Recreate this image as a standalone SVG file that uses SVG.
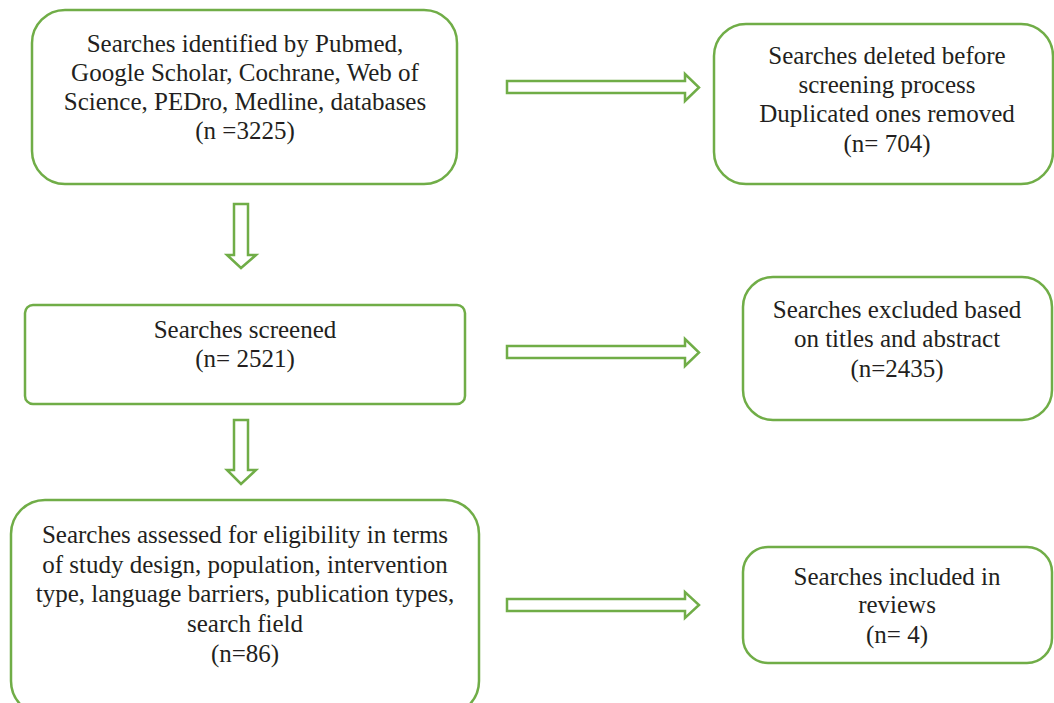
<svg xmlns="http://www.w3.org/2000/svg" width="1054" height="703" viewBox="0 0 1054 703">
<style>
.box{fill:#ffffff;stroke:#70AD47;stroke-width:2.5}
.arr{fill:#ffffff;stroke:#70AD47;stroke-width:2.5;stroke-linejoin:miter}
.lbl{font-family:"Liberation Serif","Times New Roman",serif;font-size:25px;fill:#231f20;text-anchor:middle}
</style>
<rect width="1054" height="703" fill="#ffffff"/>
<g id="connectors">
<polygon class="arr" points="507,81 685,81 685,74 699,87.5 685,101 685,93 507,93"/>
<polygon class="arr" points="507,346 685,346 685,339 699,352.5 685,366 685,358 507,358"/>
<polygon class="arr" points="507,599 685,599 685,592 699,605 685,618 685,611 507,611"/>
<polygon class="arr" points="234,204 248,204 248,255 256,255 241,268 227,255 234,255"/>
<polygon class="arr" points="234,420 248,420 248,470 256,470 241,484 227,470 234,470"/>
</g>
<g id="node-identified">
<rect class="box" x="32" y="10" width="425" height="174" rx="33" ry="33"/>
<text class="lbl" x="245" y="52">Searches identified by Pubmed,</text>
<text class="lbl" x="245" y="81">Google Scholar, Cochrane, Web of</text>
<text class="lbl" x="245" y="110">Science, PEDro, Medline, databases</text>
<text class="lbl" x="245" y="139">(n =3225)</text>
</g>
<g id="node-deleted">
<rect class="box" x="714" y="24" width="339" height="160" rx="32" ry="32"/>
<text class="lbl" x="887" y="64">Searches deleted before</text>
<text class="lbl" x="887" y="93">screening process</text>
<text class="lbl" x="887" y="122">Duplicated ones removed</text>
<text class="lbl" x="887" y="152">(n= 704)</text>
</g>
<g id="node-screened">
<rect class="box" x="25" y="305" width="440" height="99" rx="8" ry="8"/>
<text class="lbl" x="245" y="338">Searches screened</text>
<text class="lbl" x="245" y="367">(n= 2521)</text>
</g>
<g id="node-excluded">
<rect class="box" x="743" y="277" width="309" height="143" rx="30" ry="30"/>
<text class="lbl" x="897" y="318">Searches excluded based</text>
<text class="lbl" x="897" y="347">on titles and abstract</text>
<text class="lbl" x="897" y="377">(n=2435)</text>
</g>
<g id="node-assessed">
<rect class="box" x="11" y="500" width="468" height="215" rx="34" ry="34"/>
<text class="lbl" x="245" y="543">Searches assessed for eligibility in terms</text>
<text class="lbl" x="245" y="573">of study design, population, intervention</text>
<text class="lbl" x="245" y="602">type, language barriers, publication types,</text>
<text class="lbl" x="245" y="632">search field</text>
<text class="lbl" x="245" y="662">(n=86)</text>
</g>
<g id="node-included">
<rect class="box" x="743" y="547" width="309" height="116" rx="25" ry="25"/>
<text class="lbl" x="897" y="585">Searches included in</text>
<text class="lbl" x="897" y="613">reviews</text>
<text class="lbl" x="897" y="643">(n= 4)</text>
</g>
</svg>
